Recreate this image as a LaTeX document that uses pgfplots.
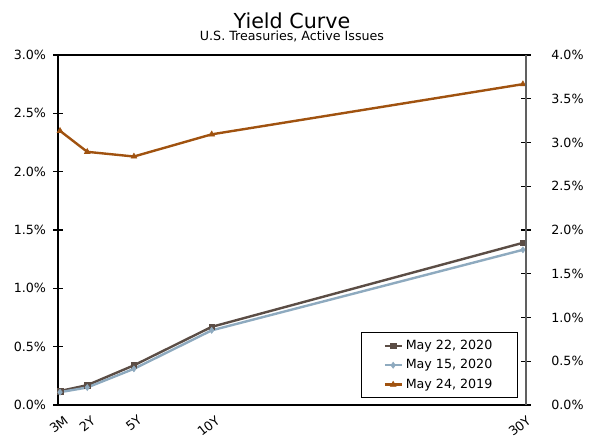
\documentclass[border=0pt]{standalone}
\usepackage{pgfplots}
\pgfplotsset{compat=1.18}
\usepackage{fontspec}
\setmainfont{DejaVu Sans}
\definecolor{may22}{HTML}{5B4D45}
\definecolor{may15}{HTML}{8EAABF}
\definecolor{may19}{HTML}{A0520F}
\definecolor{raxis}{HTML}{606060}
\begin{document}
\begin{tikzpicture}
\path[use as bounding box] (-43.5pt,-29.25pt) rectangle (406.5pt,303.75pt);
\begin{axis}[
  scale only axis,
  width=351pt, height=262.5pt,
  at={(0,0)}, anchor=south west,
  xmin=0.12, xmax=30.2,
  ymin=0, ymax=3,
  xtick={0.25,2,5,10,30},
  xticklabels={3M,2Y,5Y,10Y,30Y},
  x tick label style={rotate=38, anchor=north east, xshift=3pt, yshift=-1pt},
  xtick style={draw=none},
  ytick={0,0.5,...,3},
  ytick pos=left,
  tick align=center,
  major tick length=7pt,
  yticklabel={\pgfmathprintnumber[fixed,fixed zerofill,precision=1]{\tick}\%},
  /pgf/number format/assume math mode=true,
  tick label style={font=\fontsize{9.5}{11}\selectfont},
  y tick label style={xshift=-2pt},
  axis line style={black, line width=0.8pt},
  every tick/.style={black, line width=0.8pt},
  legend style={at={(0.983,0.02)}, anchor=south east, draw=black, line width=0.5pt,
    fill=white, font=\fontsize{9.5}{11}\selectfont, inner xsep=17pt, inner ysep=3.5pt,
    row sep=2pt, cells={anchor=west}},
  legend image code/.code={\draw[mark repeat=2,mark phase=2] plot coordinates {(0cm,0cm) (0.22cm,0cm) (0.45cm,0cm)};},
  legend cell align=left,
  clip=false,
]
\addplot[may22, line width=1.8pt, mark=square*, mark size=2.1pt, mark options={line width=0.4pt}]
  coordinates {(0.25,0.12) (2,0.17) (5,0.34) (10,0.67) (30,1.39)};
\addlegendentry{May 22, 2020}
\addplot[may15, line width=1.8pt, mark=diamond*, mark size=2.3pt, mark options={line width=0.4pt}]
  coordinates {(0.25,0.11) (2,0.15) (5,0.31) (10,0.64) (30,1.33)};
\addlegendentry{May 15, 2020}
\addplot[may19, line width=1.8pt, mark=triangle*, mark size=2.5pt, mark options={line width=0.4pt}]
  coordinates {(0.25,2.35) (2,2.17) (5,2.13) (10,2.32) (30,2.75)};
\addlegendentry{May 24, 2019}
\end{axis}
\begin{axis}[
  scale only axis,
  width=351pt, height=262.5pt,
  at={(0,0)}, anchor=south west,
  xmin=0.12, xmax=30.2,
  ymin=0, ymax=4,
  hide x axis,
  axis y line*=right,
  ytick={0,0.5,...,4},
  tick align=center,
  major tick length=7pt,
  yticklabel={\pgfmathprintnumber[fixed,fixed zerofill,precision=1]{\tick}\%},
  /pgf/number format/assume math mode=true,
  tick label style={font=\fontsize{9.5}{11}\selectfont},
  y tick label style={xshift=12pt},
  axis line style={raxis, line width=0.8pt},
  every tick/.style={black, line width=0.8pt},
]
\end{axis}
\node[anchor=base, font=\fontsize{15.5}{18}\selectfont] at (175.5pt,282.75pt) {Yield Curve};
\node[anchor=base, font=\fontsize{9.5}{11}\selectfont] at (175.5pt,273pt) {U.S. Treasuries, Active Issues};
\end{tikzpicture}
\end{document}
